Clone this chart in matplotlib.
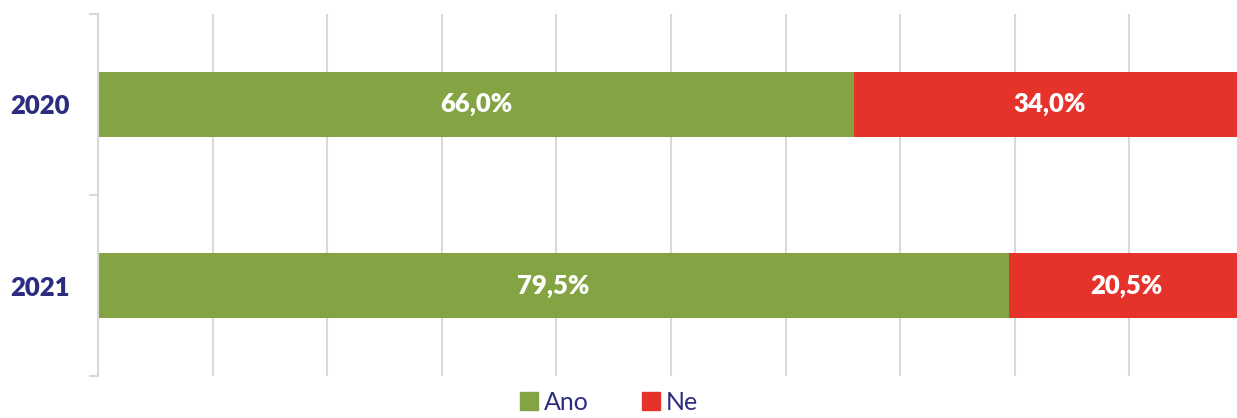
import matplotlib
matplotlib.use('Agg')
import matplotlib.pyplot as plt
from matplotlib.patches import Patch

# Dados do gráfico
anos = ['2020', '2021']
ano = [66.0, 79.5]
ne = [34.0, 20.5]
series = ['Ano', 'Ne']

verde = '#84a443'
vermelho = '#e5332c'
azul = '#2d2d80'
cinza = '#d9d9d9'

plt.rcParams['font.family'] = ['Lato', 'DejaVu Sans']

fig = plt.figure(figsize=(12.37, 4.18), dpi=100)
ax = fig.add_axes([98 / 1237, 1 - 376 / 418, (1244 - 98) / 1237, (376 - 14) / 418])

y = list(range(len(anos)))
ax.barh(y, ano, height=0.354, color=verde, zorder=2)
ax.barh(y, ne, left=ano, height=0.354, color=vermelho, zorder=2)

for i in y:
    ax.text(ano[i] / 2, i, f'{ano[i]:.1f}%'.replace('.', ','), ha='center', va='center',
            color='white', fontsize=18.5, fontweight='heavy', zorder=3)
    ax.text(ano[i] + ne[i] / 2, i, f'{ne[i]:.1f}%'.replace('.', ','), ha='center', va='center',
            color='white', fontsize=18.5, fontweight='heavy', zorder=3)

ax.set_xlim(0, 100)
ax.set_ylim(1.5, -0.5)
ax.set_xticks(range(0, 101, 10))
ax.tick_params(axis='x', length=0, labelbottom=False)
ax.grid(axis='x', color=cinza, linewidth=1.5, zorder=0)

ax.set_yticks(y)
ax.set_yticklabels(anos, fontsize=18.5, fontweight='heavy', color=azul)
ax.set_yticks([-0.5, 0.5, 1.5], minor=True)
ax.tick_params(axis='y', which='major', length=0, pad=20)
ax.tick_params(axis='y', which='minor', length=6.5, width=1.5, color=cinza)

for s in ['top', 'right', 'bottom']:
    ax.spines[s].set_visible(False)
ax.spines['left'].set_color(cinza)
ax.spines['left'].set_linewidth(1.5)

handles = [Patch(color=verde, label=series[0]), Patch(color=vermelho, label=series[1])]
fig.legend(handles=handles, loc='center', bbox_to_anchor=(609 / 1237, 1 - 402 / 418), ncol=2,
           frameon=False, fontsize=18, labelcolor=azul, handlelength=0.72, handleheight=0.72,
           handletextpad=0.25, columnspacing=2.1, borderpad=0.1)

fig.savefig('out.png', dpi=100)
